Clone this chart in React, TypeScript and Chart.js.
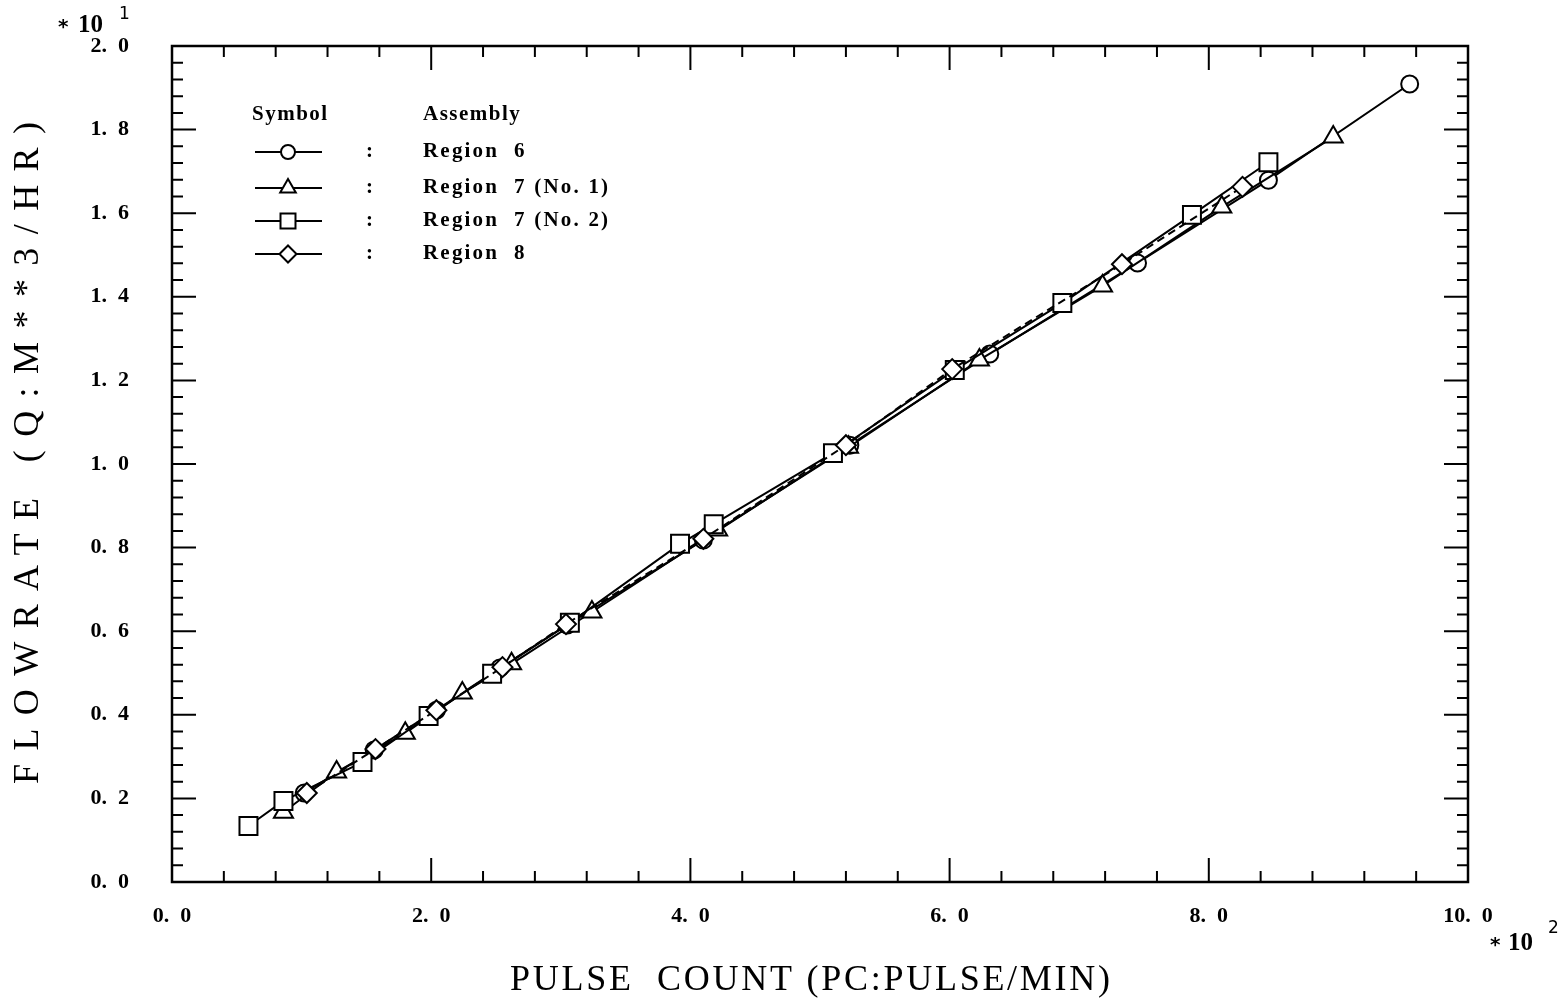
import React, { useEffect, useRef } from "react";
import { Chart, registerables } from "chart.js";
import { drawPoint } from "chart.js/helpers";

Chart.register(...registerables);

// x values in units of 10^2 pulse/min, y values in units of 10^1 m^3/hr
const region6X = [1.02, 1.56, 2.04, 2.53, 3.05, 4.10, 5.23, 6.31, 7.45, 8.46, 9.55];
const region6Y = [0.213, 0.316, 0.411, 0.512, 0.615, 0.818, 1.045, 1.263, 1.481, 1.679, 1.909];

const region7aX = [0.86, 1.27, 1.80, 2.24, 2.62, 3.24, 4.21, 5.22, 6.23, 7.18, 8.10, 8.96];
const region7aY = [0.167, 0.263, 0.356, 0.452, 0.522, 0.646, 0.842, 1.040, 1.249, 1.426, 1.615, 1.782];

const region7bX = [0.59, 0.86, 1.47, 1.98, 2.47, 3.07, 3.92, 4.18, 5.10, 6.04, 6.87, 7.87, 8.46];
const region7bY = [0.134, 0.194, 0.287, 0.397, 0.498, 0.620, 0.809, 0.856, 1.026, 1.225, 1.385, 1.596, 1.722];

const region8X = [1.04, 1.57, 2.04, 2.55, 3.04, 4.10, 5.20, 6.02, 7.33, 8.26];
const region8Y = [0.213, 0.318, 0.411, 0.514, 0.617, 0.821, 1.045, 1.227, 1.478, 1.663];

const seriesLabels = ["Region  6", "Region  7 (No. 1)", "Region  7 (No. 2)", "Region  8"];
const seriesStyles = ["circle", "triangle", "rect", "rectRot"];

const xMin = 0, xMax = 10, xStep = 2, xMinorStep = 0.4;
const yMin = 0, yMax = 2, yStep = 0.2, yMinorStep = 0.04;

const xTitle = "PULSE  COUNT (PC:PULSE/MIN)";
const yTitle = "FLOWRATE (Q:M**3/HR)";

const zip = (xs: number[], ys: number[]) => xs.map((x, i) => ({ x, y: ys[i] }));

const fmtTick = (v: number) => {
  const s = Number(v).toFixed(1);
  return s.replace(".", ".  ");
};

const SERIF = "'Liberation Serif', 'DejaVu Serif', serif";

function drawFitted(ctx: CanvasRenderingContext2D, text: string, x: number, y: number, target: number) {
  (ctx as any).letterSpacing = "0px";
  const w = ctx.measureText(text).width;
  const n = Array.from(text).length;
  const sp = (target - w) / (n - 1);
  (ctx as any).letterSpacing = sp + "px";
  ctx.textAlign = "left";
  ctx.textBaseline = "middle";
  ctx.fillText(text, x, y);
  (ctx as any).letterSpacing = "0px";
}

const decorPlugin = {
  id: "decor",
  afterDraw(chart: any) {
    const { ctx, chartArea } = chart;
    const { left, right, top, bottom } = chartArea;
    const xs = chart.scales.x;
    const ys = chart.scales.y;
    ctx.save();
    ctx.strokeStyle = "#000";
    ctx.fillStyle = "#000";
    // frame
    ctx.lineWidth = 2.5;
    ctx.strokeRect(left, top, right - left, bottom - top);
    // inward ticks
    ctx.lineWidth = 2;
    const nY = Math.round((yMax - yMin) / yMinorStep);
    const perMajorY = Math.round(yStep / yMinorStep);
    for (let i = 0; i <= nY; i++) {
      const py = ys.getPixelForValue(yMin + i * yMinorStep);
      const len = i % perMajorY === 0 ? 24 : 11;
      ctx.beginPath();
      ctx.moveTo(left, py);
      ctx.lineTo(left + len, py);
      ctx.moveTo(right, py);
      ctx.lineTo(right - len, py);
      ctx.stroke();
    }
    const nX = Math.round((xMax - xMin) / xMinorStep);
    const perMajorX = Math.round(xStep / xMinorStep);
    for (let i = 0; i <= nX; i++) {
      const px = xs.getPixelForValue(xMin + i * xMinorStep);
      const len = i % perMajorX === 0 ? 24 : 11;
      ctx.beginPath();
      ctx.moveTo(px, bottom);
      ctx.lineTo(px, bottom - len);
      ctx.moveTo(px, top);
      ctx.lineTo(px, top + len);
      ctx.stroke();
    }

    // exponent labels
    ctx.textBaseline = "middle";
    ctx.textAlign = "left";
    ctx.font = `bold 20px 'DejaVu Sans', sans-serif`;
    ctx.fillText("*", 58, 28);
    ctx.font = `bold 25px ${SERIF}`;
    ctx.fillText("10", 78, 26);
    ctx.font = `17px 'DejaVu Sans', sans-serif`;
    ctx.fillText("1", 119, 15);

    ctx.font = `bold 20px 'DejaVu Sans', sans-serif`;
    ctx.fillText("*", 1490, 946);
    ctx.font = `bold 25px ${SERIF}`;
    ctx.fillText("10", 1508, 944);
    ctx.font = `17px 'DejaVu Sans', sans-serif`;
    ctx.fillText("2", 1548, 929);

    // axis titles
    ctx.font = `36px ${SERIF}`;
    drawFitted(ctx, xTitle, 510, 981, 600);
    ctx.save();
    ctx.translate(29, 453);
    ctx.rotate(-Math.PI / 2);
    ctx.font = `36px ${SERIF}`;
    drawFitted(ctx, yTitle, -331, 0, 662);
    ctx.restore();

    // legend
    ctx.font = `bold 21px ${SERIF}`;
    (ctx as any).letterSpacing = "1.5px";
    ctx.textAlign = "left";
    ctx.fillText("Symbol", 252, 115);
    ctx.fillText("Assembly", 423, 115);
    const rowsY = [152, 188, 221, 254];
    const radii = [7, 9, 10.6, 8.5];
    for (let i = 0; i < seriesLabels.length; i++) {
      const y = rowsY[i];
      ctx.lineWidth = 2;
      ctx.strokeStyle = "#000";
      ctx.beginPath();
      ctx.moveTo(255, y);
      ctx.lineTo(322, y);
      ctx.stroke();
      ctx.fillStyle = "#fff";
      drawPoint(ctx, { pointStyle: seriesStyles[i], radius: radii[i], borderWidth: 2, rotation: 0 } as any, 288, y);
      ctx.fillStyle = "#000";
      (ctx as any).letterSpacing = "0px";
      ctx.font = `bold 21px ${SERIF}`;
      ctx.fillText(":", 366, y);
      (ctx as any).letterSpacing = "2.2px";
      ctx.fillText(seriesLabels[i], 423, y);
    }
    (ctx as any).letterSpacing = "0px";
    ctx.restore();
  },
};

export default function App() {
  const ref = useRef<HTMLCanvasElement | null>(null);
  useEffect(() => {
    if (!ref.current) return;
    const common = {
      showLine: true,
      borderColor: "#000",
      borderWidth: 2,
      pointBackgroundColor: "#fff",
      pointBorderColor: "#000",
      pointBorderWidth: 2,
      tension: 0,
      fill: false,
    };
    const chart = new Chart(ref.current, {
      type: "scatter",
      data: {
        datasets: [
          { ...common, label: seriesLabels[3], data: zip(region8X, region8Y), pointStyle: "rectRot", pointRadius: 10, borderDash: [8, 5] },
          { ...common, label: seriesLabels[2], data: zip(region7bX, region7bY), pointStyle: "rect", pointRadius: 12.7 },
          { ...common, label: seriesLabels[1], data: zip(region7aX, region7aY), pointStyle: "triangle", pointRadius: 11 },
          { ...common, label: seriesLabels[0], data: zip(region6X, region6Y), pointStyle: "circle", pointRadius: 8.5 },
        ],
      } as any,
      options: {
        responsive: false,
        animation: false,
        devicePixelRatio: 1,
        layout: { padding: { top: 46, right: 98, left: 0, bottom: 0 } },
        plugins: { legend: { display: false }, tooltip: { enabled: false } },
        scales: {
          x: {
            type: "linear",
            position: "bottom",
            min: xMin,
            max: xMax,
            grid: { display: false, drawTicks: false },
            border: { display: false },
            ticks: {
              stepSize: xStep,
              padding: 21,
              color: "#000",
              maxRotation: 0,
              autoSkip: false,
              font: { family: SERIF, size: 22, weight: "bold" },
              callback: (v: any) => fmtTick(v),
            },
            afterFit: (s: any) => {
              s.height = 123;
              s.paddingLeft = 0;
              s.paddingRight = 0;
            },
          },
          y: {
            type: "linear",
            min: yMin,
            max: yMax,
            grid: { display: false, drawTicks: false },
            border: { display: false },
            ticks: {
              stepSize: yStep,
              padding: 43,
              color: "#000",
              autoSkip: false,
              font: { family: SERIF, size: 22, weight: "bold" },
              callback: (v: any) => fmtTick(v),
            },
            afterFit: (s: any) => {
              s.width = 172;
              s.paddingTop = 0;
              s.paddingBottom = 0;
            },
          },
        },
      } as any,
      plugins: [decorPlugin],
    });
    return () => chart.destroy();
  }, []);
  return (
    <div style={{ position: "absolute", left: 0, top: 0, width: 1566, height: 1005, background: "#fff" }}>
      <canvas ref={ref} width={1566} height={1005} style={{ display: "block" }} />
    </div>
  );
}
